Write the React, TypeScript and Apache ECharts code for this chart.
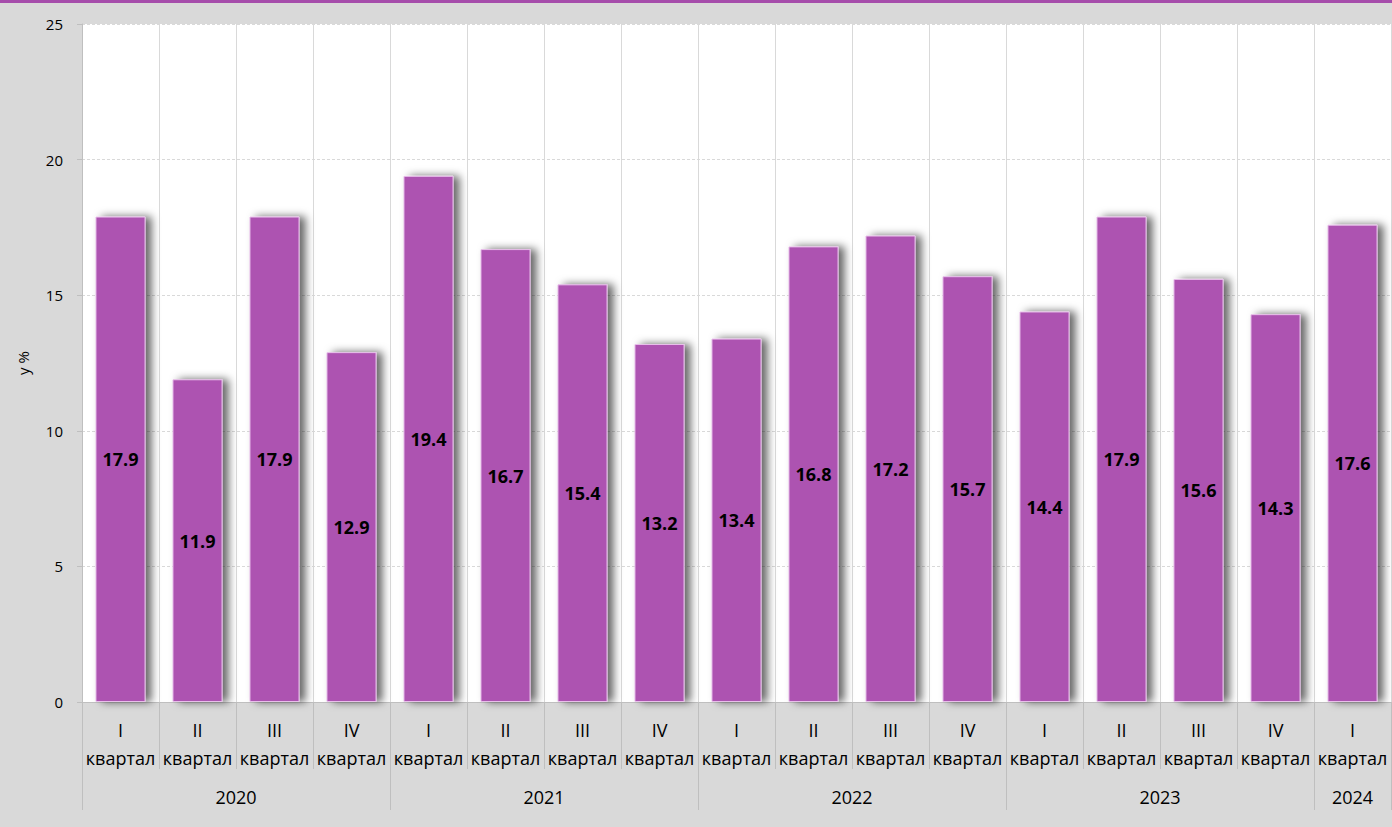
import React, { useEffect, useRef } from "react";
import * as echarts from "echarts";

const quarters = ["I", "II", "III", "IV", "I", "II", "III", "IV", "I", "II", "III", "IV", "I", "II", "III", "IV", "I"];
const values = [17.9, 11.9, 17.9, 12.9, 19.4, 16.7, 15.4, 13.2, 13.4, 16.8, 17.2, 15.7, 14.4, 17.9, 15.6, 14.3, 17.6];
const years = ["2020", "2021", "2022", "2023", "2024"];
const yearCounts = [4, 4, 4, 4, 1];
const yTicks = [0, 5, 10, 15, 20, 25];

const FONT = "'Open Sans', 'Noto Sans', sans-serif";

export default function App() {
  const ref = useRef<HTMLDivElement>(null);
  useEffect(() => {
    if (!ref.current) return;
    const chart = echarts.init(ref.current, undefined, { renderer: "svg" });
    const bounds: number[] = [0];
    const centers: number[] = [];
    let acc = 0;
    yearCounts.forEach((c) => {
      centers.push(acc + c / 2);
      acc += c;
      bounds.push(acc);
    });
    const n = quarters.length;
    chart.setOption({
      animation: false,
      backgroundColor: "#d9d9d9",
      graphic: [
        { type: "rect", left: 0, top: 0, shape: { width: 1392, height: 3 }, style: { fill: "#a64dab" } },
      ],
      grid: {
        left: 82,
        right: 1,
        top: 24,
        bottom: 125,
        show: true,
        backgroundColor: "#ffffff",
        borderWidth: 0,
      },
      xAxis: [
        {
          type: "category",
          data: quarters.map((q) => q + "\nквартал"),
          position: "bottom",
          axisLine: { show: true, lineStyle: { color: "#bfbfbf", width: 1 } },
          axisTick: { show: true, interval: 0, length: 67, lineStyle: { color: "#bfbfbf" } },
          splitLine: { show: true, interval: 0, lineStyle: { color: "#d9d9d9", width: 1 } },
          axisLabel: {
            interval: 0,
            color: "#000",
            fontFamily: FONT,
            fontSize: 18,
            lineHeight: 28,
            margin: 14,
          },
        },
        {
          type: "value",
          min: 0,
          max: n,
          position: "bottom",
          axisLine: { show: false },
          splitLine: { show: false },
          axisTick: {
            show: true,
            customValues: bounds,
            length: 108,
            lineStyle: { color: "#bfbfbf" },
          },
          axisLabel: {
            show: true,
            customValues: centers,
            formatter: (v: number) => {
              const i = centers.findIndex((c) => Math.abs(c - v) < 1e-6);
              return i >= 0 ? years[i] : "";
            },
            color: "#000",
            fontFamily: FONT,
            fontSize: 18,
            lineHeight: 20,
            margin: 85,
          },
        },
      ],
      yAxis: {
        type: "value",
        min: yTicks[0],
        max: yTicks[yTicks.length - 1],
        interval: 5,
        name: "у %",
        nameLocation: "middle",
        nameGap: 52,
        nameRotate: 90,
        nameTextStyle: { color: "#000", fontFamily: FONT, fontSize: 15 },
        axisLine: { show: true, lineStyle: { color: "#bfbfbf" } },
        axisTick: { show: true, length: 5, lineStyle: { color: "#bfbfbf" } },
        axisLabel: { color: "#000", fontFamily: FONT, fontSize: 15, margin: 19 },
        splitLine: { show: true, lineStyle: { color: "#d9d9d9", type: [3, 2] } },
      },
      series: [
        {
          type: "bar",
          xAxisIndex: 0,
          data: values,
          barWidth: "65%",
          itemStyle: {
            color: "#ad52b1",
            borderColor: "#e8c0ea",
            borderWidth: 1,
            shadowColor: "rgba(0,0,0,0.6)",
            shadowBlur: 8,
            shadowOffsetX: 6,
            shadowOffsetY: 0,
          },
          label: {
            show: true,
            position: "inside",
            color: "#000",
            fontWeight: "bold",
            fontFamily: FONT,
            fontSize: 18,
            formatter: (p: any) => Number(p.value).toFixed(1),
          },
        },
      ],
    });
    return () => chart.dispose();
  }, []);
  return (
    <div
      ref={ref}
      style={{ position: "fixed", left: 0, top: 0, width: 1392, height: 827 }}
    />
  );
}
